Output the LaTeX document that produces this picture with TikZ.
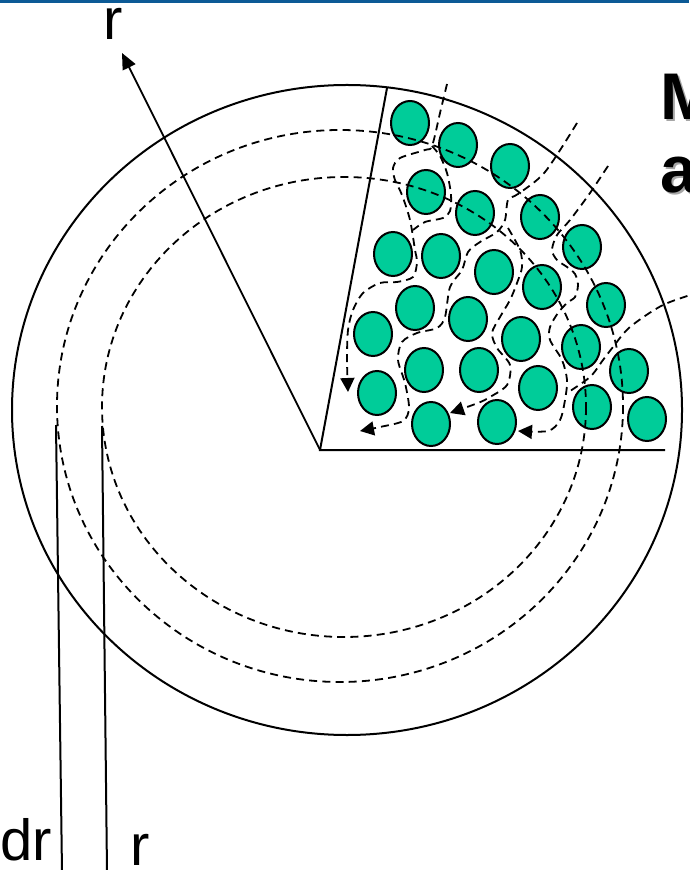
\documentclass[tikz,border=0pt]{standalone}
\usepackage{fontspec}
\setmainfont{Liberation Sans}
\usepackage{xcolor}
\definecolor{fibregreen}{RGB}{0,204,153}
\definecolor{slideblue}{RGB}{12,90,150}
\definecolor{markred}{RGB}{240,70,20}
\usetikzlibrary{shapes.geometric,arrows.meta}

\begin{document}
\begin{tikzpicture}[
  x=0.5pt, y=-0.5pt,
  fibre/.style={ellipse, draw=black, line width=1pt, fill=fibregreen, minimum width=19pt, minimum height=22pt, inner sep=0pt},
  rim/.style={line width=1pt},
  flow/.style={dash pattern=on 4pt off 2.6pt, line width=0.9pt},
  flowarrow/.style={flow, -{Triangle[length=7pt,width=7pt]}},
  radius/.style={line width=0.9pt, -{Triangle[length=8pt,width=7pt]}},
  lbl/.style={font=\fontsize{29}{30}\selectfont, inner sep=0pt},
  title/.style={font=\fontsize{33}{36}\selectfont\bfseries, inner sep=0pt}
]
\clip (0,0) rectangle (689,870);
\fill[slideblue] (0,0) rectangle (689,3);

% cross-section and sector
\draw[rim] (347,410) ellipse [x radius=335, y radius=325];
\coordinate (o) at (320,450);
\coordinate (wtop) at (387,88);
\coordinate (wright) at (665,450);
\draw[rim] (wtop) -- (o) -- (wright);

% radius arrow
\coordinate (rtip) at (122,53);
\draw[radius] (o) -- (rtip);
\node[lbl, anchor=base] (rlab) at (113,40) {r};

% shell lines
\coordinate (dra) at (56,425);
\coordinate (drb) at (62,872);
\coordinate (ra) at (102,426);
\coordinate (rb) at (107,872);
\draw[rim] (dra) -- (drb);
\draw[rim] (ra) -- (rb);
\node[lbl, anchor=base west] (drlab) at (0,860) {dr};
\node[lbl, anchor=base] (rlab2) at (140,865) {r};

% fibres
\foreach \x/\y [count=\i] in {410/123, 458/145, 510/166,
  426/192, 475/213, 540/217, 582/247,
  393/254, 441/256, 494/272, 542/287, 606/305,
  415/308, 468/319, 373/334, 521/339, 581/347, 629/371,
  424/370, 479/370, 377/393, 538/388, 592/407, 647/419,
  431/424, 497/422}
  \node[fibre] (f\i) at (\x,\y) {};

% dashed shells
\draw[flow] (340,406) ellipse [x radius=283, y radius=276];
\draw[flow] (344,407) ellipse [x radius=242, y radius=230];

% flow paths between fibres
\draw[flowarrow] plot[smooth, tension=0.5] coordinates {(447,84) (440,113) (432,146) (425,150) (400,158) (393,168) (395,180) (402,195) (410,220) (415,250) (417,262) (413,277) (397,282) (380,283) (363,293) (353,310) (348,330) (347,360) (348,392)};
\draw[flow] plot[smooth, tension=0.5] coordinates {(432,146) (440,156) (447,173) (451,195) (450,211) (443,218) (425,222) (413,230)};
\draw[flowarrow] plot[smooth, tension=0.5] coordinates {(577,123) (545,172) (518,194) (508,200) (505,220) (497,232) (480,242) (468,252) (462,270) (450,287) (445,317) (437,328) (417,333) (402,342) (398,360) (405,383) (409,408) (403,421) (380,427) (360,431)};
\draw[flowarrow] plot[smooth, tension=0.5] coordinates {(508,228) (520,250) (522,267) (517,283) (510,300) (500,317) (492,333) (497,348) (510,365) (507,385) (490,397) (478,403) (450,413)};
\draw[flowarrow] plot[smooth, tension=0.5] coordinates {(608,166) (590,193) (570,220) (557,235) (552,250) (557,260) (567,267) (575,274) (578,285) (575,297) (567,303) (558,313) (550,327) (550,340) (562,360) (567,380) (565,400) (560,420) (548,431) (518,431)};
\draw[flow] plot[smooth, tension=0.5] coordinates {(700,292) (663,305) (630,327) (613,347) (603,360) (590,377) (567,393)};

% slide remnants
\draw[markred, line width=1pt] (712,400) circle [radius=33];
\node[title, anchor=base west, text=black!35] (ttlMs) at (662,122) {M};
\node[title, anchor=base west] (ttlM) at (660,120) {M};
\node[title, anchor=base west, text=black!35] (ttlas) at (662,195) {a};
\node[title, anchor=base west] (ttla) at (660,193) {a};
\end{tikzpicture}
\end{document}
